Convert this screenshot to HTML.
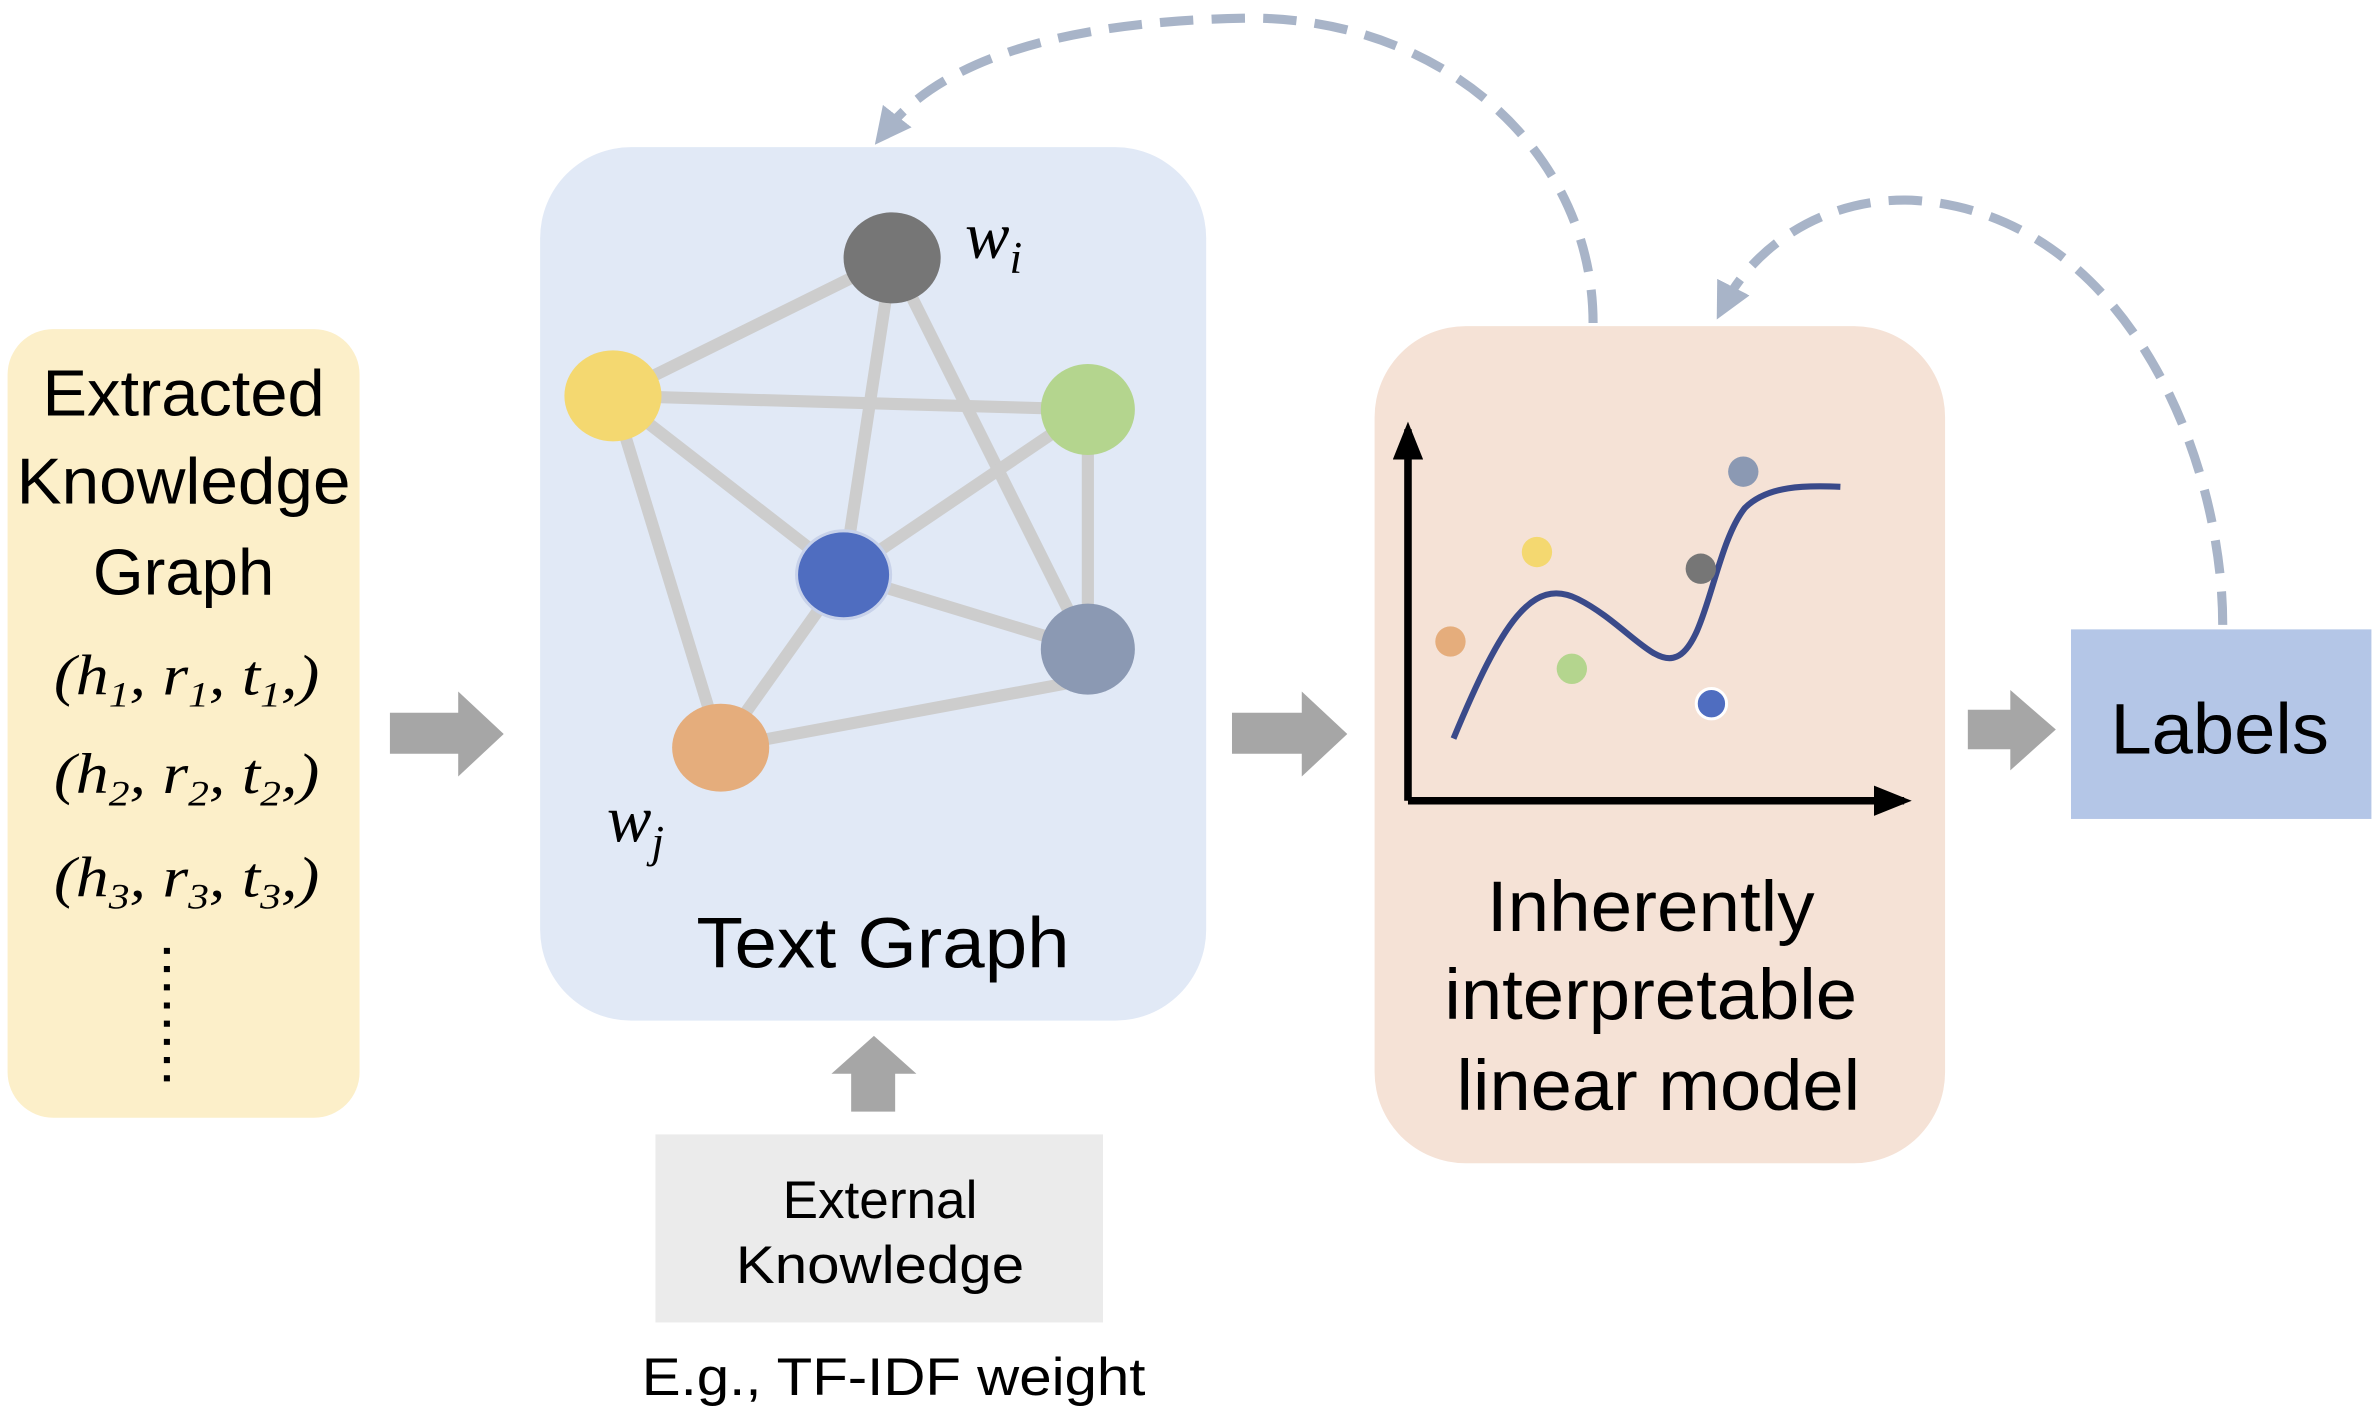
<!DOCTYPE html>
<html><head><meta charset="utf-8"><style>
html,body{margin:0;padding:0;background:#fff;}
svg{display:block;}
text{font-family:"Liberation Sans",sans-serif;fill:#000;}
.it{font-family:"Liberation Serif",serif;font-style:italic;}
</style></head><body>
<svg width="2379" height="1418" viewBox="0 0 1568 935" preserveAspectRatio="none" xmlns="http://www.w3.org/2000/svg">
<defs>
<marker id="ah" markerWidth="4" markerHeight="4" refX="2" refY="2" orient="auto" markerUnits="strokeWidth"><path d="M0,0 L4,2 L0,4 Z" fill="#a8b4c8"/></marker>
<marker id="bk" markerWidth="5" markerHeight="4" refX="4" refY="2" orient="auto" markerUnits="strokeWidth"><path d="M0,0 L5,2 L0,4 Z" fill="#000"/></marker>
</defs>
<rect x="5" y="217" width="232" height="520" rx="30" fill="#fcefc9"/>
<text x="121" y="274" font-size="43" text-anchor="middle" textLength="186" lengthAdjust="spacingAndGlyphs">Extracted</text>
<text x="121" y="332" font-size="43" text-anchor="middle" textLength="220" lengthAdjust="spacingAndGlyphs">Knowledge</text>
<text x="121" y="392" font-size="43" text-anchor="middle">Graph</text>
<text class="it" x="123" y="458" font-size="38" text-anchor="middle" textLength="175" lengthAdjust="spacingAndGlyphs">(h<tspan font-size="24" dy="8">1</tspan><tspan dy="-8">, r</tspan><tspan font-size="24" dy="8">1</tspan><tspan dy="-8">, t</tspan><tspan font-size="24" dy="8">1</tspan><tspan dy="-8">,)</tspan></text>
<text class="it" x="123" y="523" font-size="38" text-anchor="middle" textLength="175" lengthAdjust="spacingAndGlyphs">(h<tspan font-size="24" dy="8">2</tspan><tspan dy="-8">, r</tspan><tspan font-size="24" dy="8">2</tspan><tspan dy="-8">, t</tspan><tspan font-size="24" dy="8">2</tspan><tspan dy="-8">,)</tspan></text>
<text class="it" x="123" y="591" font-size="38" text-anchor="middle" textLength="175" lengthAdjust="spacingAndGlyphs">(h<tspan font-size="24" dy="8">3</tspan><tspan dy="-8">, r</tspan><tspan font-size="24" dy="8">3</tspan><tspan dy="-8">, t</tspan><tspan font-size="24" dy="8">3</tspan><tspan dy="-8">,)</tspan></text>
<line x1="110" y1="625" x2="110" y2="714" stroke="#000" stroke-width="4" stroke-dasharray="4 8"/>
<rect x="356" y="97" width="439" height="576" rx="60" fill="#e1e9f6"/>
<g stroke="#cdcdcd" stroke-width="8">
<line x1="588" y1="170" x2="404" y2="261"/><line x1="588" y1="170" x2="556" y2="379"/><line x1="588" y1="170" x2="717" y2="428"/>
<line x1="404" y1="261" x2="717" y2="270"/><line x1="404" y1="261" x2="556" y2="379"/><line x1="404" y1="261" x2="475" y2="493"/>
<line x1="717" y1="270" x2="556" y2="379"/><line x1="717" y1="270" x2="717" y2="428"/><line x1="556" y1="379" x2="717" y2="428"/>
<line x1="556" y1="379" x2="475" y2="493"/><line x1="475" y1="493" x2="717" y2="448"/>
</g>
<ellipse cx="588" cy="170" rx="32" ry="30" fill="#767676"/>
<ellipse cx="404" cy="261" rx="32" ry="30" fill="#f4d870"/>
<ellipse cx="717" cy="270" rx="31" ry="30" fill="#b4d58e"/>
<ellipse cx="556" cy="379" rx="31" ry="29" fill="#4f6dc0" stroke="#c8d2ea" stroke-width="2"/>
<ellipse cx="717" cy="428" rx="31" ry="30" fill="#8b99b3"/>
<ellipse cx="475" cy="493" rx="32" ry="29" fill="#e5ad7c"/>
<text class="it" x="636" y="170" font-size="44">w<tspan font-size="30" dy="10">i</tspan></text>
<text class="it" x="400" y="555" font-size="44">w<tspan font-size="30" dy="10">j</tspan></text>
<text x="582" y="638" font-size="47" text-anchor="middle" textLength="246" lengthAdjust="spacingAndGlyphs">Text Graph</text>
<g fill="#a6a6a6">
<path d="M257 470 H302 V456 L332 484 L302 512 V497 H257 Z"/>
<path d="M812 470 H858 V456 L888 484 L858 512 V497 H812 Z"/>
<path d="M1297 468 H1325 V455 L1355 481 L1325 508 V494 H1297 Z"/>
<path d="M561 733 V708 H548 L576 683 L604 708 H590 V733 Z"/>
</g>
<rect x="432" y="748" width="295" height="124" fill="#ebebeb"/>
<text x="580" y="803" font-size="35" text-anchor="middle">External</text>
<text x="580" y="846" font-size="35" text-anchor="middle" textLength="190" lengthAdjust="spacingAndGlyphs">Knowledge</text>
<text x="589" y="920" font-size="35" text-anchor="middle" textLength="332" lengthAdjust="spacingAndGlyphs">E.g., TF-IDF weight</text>
<rect x="906" y="215" width="376" height="552" rx="60" fill="#f5e2d6"/>
<line x1="928" y1="528" x2="928" y2="283" stroke="#000" stroke-width="5" marker-end="url(#bk)"/>
<line x1="928" y1="528" x2="1255" y2="528" stroke="#000" stroke-width="5" marker-end="url(#bk)"/>
<path d="M958 487 C990 410,1010 380,1040 395 C1070 410,1090 440,1105 433 C1125 425,1130 360,1150 335 C1165 320,1190 320,1213 321" fill="none" stroke="#3a4a8a" stroke-width="4"/>
<circle cx="1013" cy="364" r="10" fill="#f4d870"/>
<circle cx="956" cy="423" r="10" fill="#e5ad7c"/>
<circle cx="1036" cy="441" r="10" fill="#b4d58e"/>
<circle cx="1121" cy="375" r="10" fill="#767676"/>
<circle cx="1128" cy="464" r="10" fill="#4f6dc0" stroke="#fff" stroke-width="2"/>
<circle cx="1149" cy="311" r="10" fill="#8b99b3"/>
<text x="1088" y="614" font-size="47" text-anchor="middle" textLength="216" lengthAdjust="spacingAndGlyphs">Inherently</text>
<text x="1088" y="672" font-size="47" text-anchor="middle" textLength="272" lengthAdjust="spacingAndGlyphs">interpretable</text>
<text x="1093" y="732" font-size="47" text-anchor="middle" textLength="266" lengthAdjust="spacingAndGlyphs">linear model</text>
<rect x="1365" y="415" width="198" height="125" fill="#b4c6e7"/>
<text x="1463" y="497" font-size="47" text-anchor="middle" textLength="144" lengthAdjust="spacingAndGlyphs">Labels</text>
<path d="M1050 213 C1050 100,950 10,820 12 C700 14,620 40,584 86" fill="none" stroke="#a8b4c8" stroke-width="6" stroke-dasharray="22 12" marker-end="url(#ah)"/>
<path d="M1465 412 C1465 300,1400 140,1260 132 C1200 130,1155 165,1137 200" fill="none" stroke="#a8b4c8" stroke-width="6" stroke-dasharray="22 12" marker-end="url(#ah)"/>
</svg>
</body></html>
